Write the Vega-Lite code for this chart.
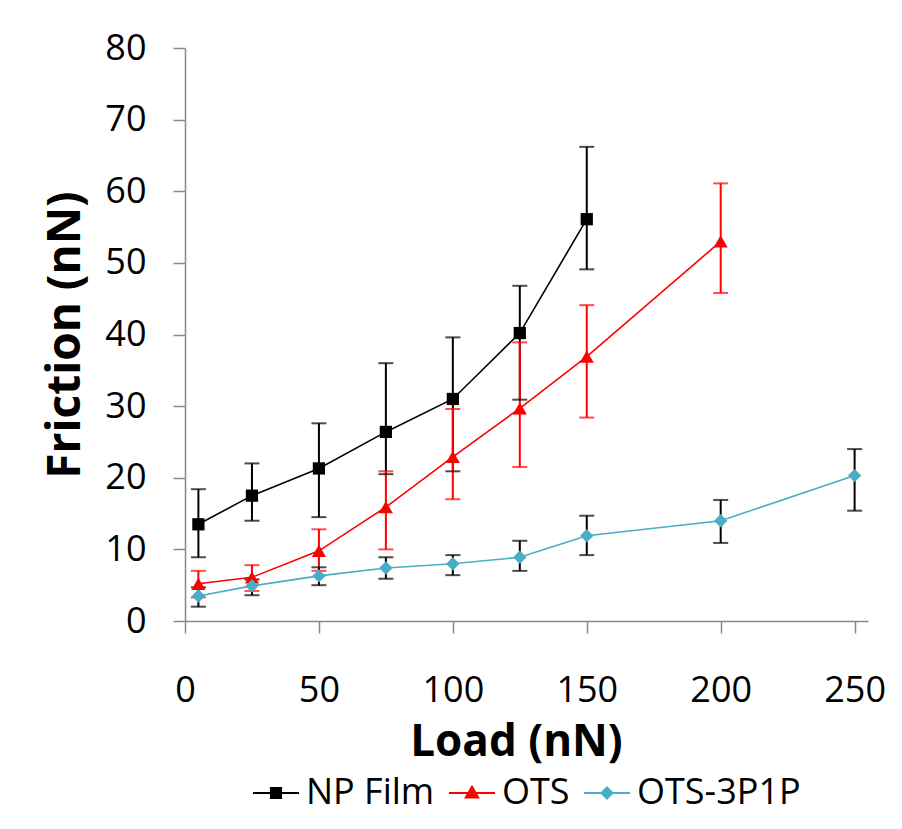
{
  "$schema": "https://vega.github.io/schema/vega-lite/v6.json",
  "width": 683,
  "height": 573,
  "autosize": {"type": "none"},
  "padding": {"left": 185, "top": 48, "right": 34, "bottom": 208},
  "background": "white",
  "config": {
    "view": {"stroke": null},
    "font": "Open Sans",
    "axis": {
      "grid": false,
      "domainColor": "#898989",
      "domainWidth": 1.5,
      "tickColor": "#898989",
      "tickWidth": 1.5,
      "tickSize": 12,
      "labelFont": "Open Sans",
      "labelFontSize": 36,
      "labelColor": "#000000",
      "titleFont": "Open Sans",
      "titleFontWeight": "bold",
      "titleColor": "#000000"
    },
    "legend": {
      "orient": "bottom",
      "direction": "horizontal",
      "labelFont": "Open Sans",
      "labelFontSize": 36,
      "labelColor": "#000000",
      "labelLimit": 400,
      "symbolSize": 2116,
      "symbolStrokeWidth": 2,
      "labelOffset": 6,
      "columnPadding": 10,
      "offset": 5,
      "padding": 0,
      "layout": {"bottom": {"anchor": "middle"}}
    }
  },
  "data": {
    "values": [
      {"series": "NP Film", "load": 5, "friction": 13.5, "lower": 8.9, "upper": 18.4},
      {"series": "NP Film", "load": 25, "friction": 17.5, "lower": 14.0, "upper": 22.0},
      {"series": "NP Film", "load": 50, "friction": 21.3, "lower": 14.5, "upper": 27.6},
      {"series": "NP Film", "load": 75, "friction": 26.4, "lower": 20.5, "upper": 36.0},
      {"series": "NP Film", "load": 100, "friction": 31.0, "lower": 20.9, "upper": 39.6},
      {"series": "NP Film", "load": 125, "friction": 40.2, "lower": 30.9, "upper": 46.8},
      {"series": "NP Film", "load": 150, "friction": 56.1, "lower": 49.1, "upper": 66.2},
      {"series": "OTS", "load": 5, "friction": 5.2, "lower": 3.3, "upper": 7.0},
      {"series": "OTS", "load": 25, "friction": 6.1, "lower": 4.2, "upper": 7.8},
      {"series": "OTS", "load": 50, "friction": 9.8, "lower": 7.0, "upper": 12.8},
      {"series": "OTS", "load": 75, "friction": 15.9, "lower": 10.0, "upper": 20.9},
      {"series": "OTS", "load": 100, "friction": 22.9, "lower": 17.0, "upper": 29.6},
      {"series": "OTS", "load": 125, "friction": 29.7, "lower": 21.5, "upper": 38.9},
      {"series": "OTS", "load": 150, "friction": 36.9, "lower": 28.4, "upper": 44.1},
      {"series": "OTS", "load": 200, "friction": 53.0, "lower": 45.8, "upper": 61.1},
      {"series": "OTS-3P1P", "load": 5, "friction": 3.5, "lower": 2.0, "upper": 4.7},
      {"series": "OTS-3P1P", "load": 25, "friction": 4.9, "lower": 3.6, "upper": 5.8},
      {"series": "OTS-3P1P", "load": 50, "friction": 6.3, "lower": 5.0, "upper": 7.5},
      {"series": "OTS-3P1P", "load": 75, "friction": 7.4, "lower": 5.9, "upper": 8.9},
      {"series": "OTS-3P1P", "load": 100, "friction": 8.0, "lower": 6.4, "upper": 9.2},
      {"series": "OTS-3P1P", "load": 125, "friction": 8.9, "lower": 7.0, "upper": 11.2},
      {"series": "OTS-3P1P", "load": 150, "friction": 11.9, "lower": 9.2, "upper": 14.7},
      {"series": "OTS-3P1P", "load": 200, "friction": 14.0, "lower": 10.9, "upper": 16.9},
      {"series": "OTS-3P1P", "load": 250, "friction": 20.3, "lower": 15.4, "upper": 24.0}
    ]
  },
  "encoding": {
    "x": {
      "field": "load",
      "type": "quantitative",
      "scale": {"domain": [0, 255], "nice": false, "zero": true},
      "axis": {
        "values": [0, 50, 100, 150, 200, 250],
        "title": "Load (nN)",
        "titleFontSize": 44,
        "labelPadding": 40,
        "titlePadding": 12,
        "titleX": 331,
        "labelFlush": false
      }
    },
    "y": {
      "field": "friction",
      "type": "quantitative",
      "scale": {"domain": [0, 80], "nice": false},
      "axis": {
        "values": [0, 10, 20, 30, 40, 50, 60, 70, 80],
        "title": "Friction (nN)",
        "titleFontSize": 46,
        "labelPadding": 27,
        "titlePadding": 15
      }
    }
  },
  "layer": [
    {
      "mark": {"type": "line", "strokeWidth": 1.6},
      "encoding": {
        "detail": {"field": "series", "type": "nominal"},
        "color": {
          "condition": [
            {"test": "datum.series === 'NP Film'", "value": "#000000"},
            {"test": "datum.series === 'OTS'", "value": "#FF0000"}
          ],
          "value": "#4BACC6"
        }
      }
    },
    {
      "mark": {"type": "rule", "strokeWidth": 2},
      "encoding": {
        "y": {"field": "lower", "type": "quantitative"},
        "y2": {"field": "upper"},
        "color": {"condition": {"test": "datum.series === 'OTS'", "value": "#FF0000"}, "value": "#000000"}
      }
    },
    {
      "mark": {"type": "tick", "orient": "horizontal", "size": 15, "thickness": 2},
      "encoding": {
        "y": {"field": "lower", "type": "quantitative"},
        "color": {"condition": {"test": "datum.series === 'OTS'", "value": "#FF0000"}, "value": "#000000"}
      }
    },
    {
      "mark": {"type": "tick", "orient": "horizontal", "size": 15, "thickness": 2},
      "encoding": {
        "y": {"field": "upper", "type": "quantitative"},
        "color": {"condition": {"test": "datum.series === 'OTS'", "value": "#FF0000"}, "value": "#000000"}
      }
    },
    {
      "transform": [{"filter": "datum.series === 'NP Film'"}],
      "mark": {"type": "point", "shape": "square", "filled": true, "size": 150, "opacity": 1, "color": "#000000"}
    },
    {
      "transform": [{"filter": "datum.series === 'OTS'"}],
      "mark": {"type": "point", "shape": "triangle-up", "filled": true, "size": 200, "opacity": 1, "color": "#FF0000"}
    },
    {
      "transform": [{"filter": "datum.series === 'OTS-3P1P'"}],
      "mark": {"type": "point", "shape": "diamond", "filled": true, "size": 180, "opacity": 1, "color": "#4BACC6"}
    },
    {
      "mark": {"type": "point", "filled": true, "strokeWidth": 2, "opacity": 1, "size": 0},
      "encoding": {
        "shape": {
          "field": "series",
          "type": "nominal",
          "legend": {"title": null},
          "scale": {
            "domain": ["NP Film", "OTS", "OTS-3P1P"],
            "range": [
              "M-1,0H1M-0.22,-0.22H0.22V0.22H-0.22Z",
              "M-1,0H1M0,-0.27L0.27,0.2H-0.27Z",
              "M-1,0H1M0,-0.24L0.24,0L0,0.24L-0.24,0Z"
            ]
          }
        },
        "fill": {
          "field": "series",
          "type": "nominal",
          "legend": {"title": null},
          "scale": {"domain": ["NP Film", "OTS", "OTS-3P1P"], "range": ["#000000", "#FF0000", "#4BACC6"]}
        },
        "stroke": {
          "field": "series",
          "type": "nominal",
          "legend": {"title": null},
          "scale": {"domain": ["NP Film", "OTS", "OTS-3P1P"], "range": ["#000000", "#FF0000", "#4BACC6"]}
        }
      }
    }
  ]
}
